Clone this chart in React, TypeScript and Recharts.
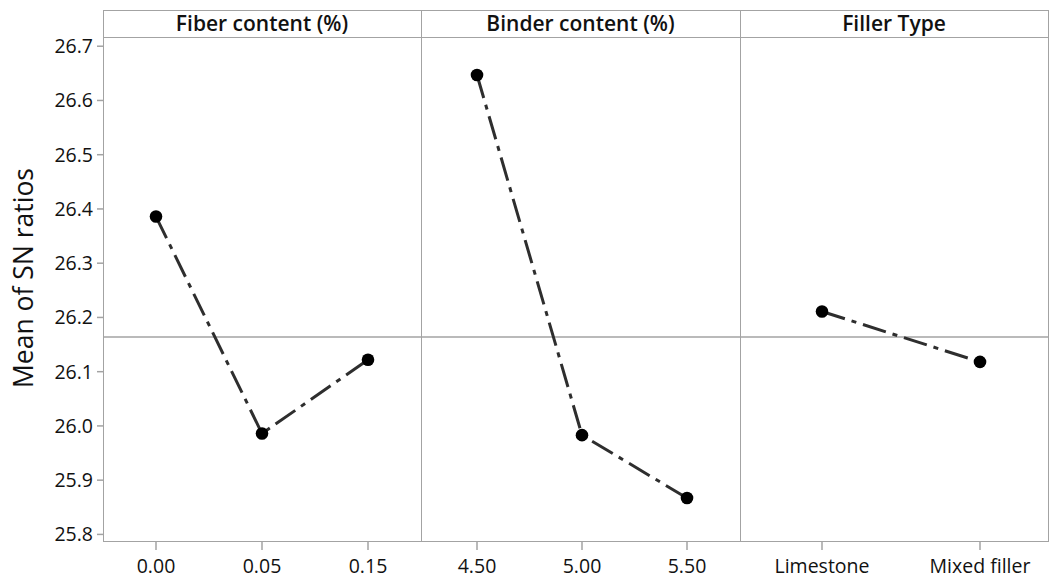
import React from "react";
import { LineChart, Line, XAxis, YAxis, ReferenceLine } from "recharts";

const fiberLevels = ["0.00", "0.05", "0.15"];
const fiberMeans = [26.386, 25.986, 26.122];
const binderLevels = ["4.50", "5.00", "5.50"];
const binderMeans = [26.647, 25.983, 25.867];
const fillerLevels = ["Limestone", "Mixed filler"];
const fillerMeans = [26.211, 26.118];
const overallMean = 26.164;
const yTicks = [25.8, 25.9, 26.0, 26.1, 26.2, 26.3, 26.4, 26.5, 26.6, 26.7];

const GRID = "#a3a3a3";
const FONT = "'Open Sans', sans-serif";

const toRows = (levels: string[], means: number[]) => levels.map((level, i) => ({ level, mean: means[i] }));

// y-axis title, nudged a bit above the axis centre like the original
function YTitle() {
    return (
        <text x={23} y={278} transform="rotate(-90 23 278)" textAnchor="middle" dominantBaseline="central"
            style={{ fontSize: 26.5, fill: "#111" }}>
            Mean of SN ratios
        </text>
    );
}

type PanelProps = {
    levels: string[];
    means: number[];
    left: number;
    width: number;
    padding: { left: number; right: number };
    showY?: boolean;
};

function Panel({ levels, means, left, width, padding, showY }: PanelProps) {
    return (
        <div style={{ position: "absolute", left, top: 0 }}>
            <LineChart width={width} height={580} data={toRows(levels, means)} margin={{ top: 37, right: 0, bottom: 0, left: 0 }}>
                <XAxis dataKey="level" type="category" scale="point" padding={padding} height={38}
                    axisLine={false} tickLine={{ stroke: GRID, strokeWidth: 1.5 }} tickSize={8} tickMargin={9}
                    tick={{ fontSize: 19.5, fill: "#111" }} interval={0} />
                <YAxis domain={[25.786, 26.717]} ticks={yTicks} hide={!showY} width={103}
                    axisLine={false} tickLine={{ stroke: GRID, strokeWidth: 1.5 }} tickSize={6} tickMargin={4}
                    tick={{ fontSize: 19.5, fill: "#111" }} tickFormatter={(v: number) => v.toFixed(1)} />
                <ReferenceLine y={overallMean} stroke={GRID} strokeWidth={1.5} />
                <Line dataKey="mean" type="linear" stroke="#2e2e2e" strokeWidth={3} strokeDasharray="24 7 5 7"
                    dot={{ r: 6.3, fill: "#000", stroke: "#000", strokeWidth: 0 }} isAnimationActive={false} />
            </LineChart>
            {showY && (
                <svg width={60} height={580} style={{ position: "absolute", left: 0, top: 0 }}>
                    <YTitle />
                </svg>
            )}
        </div>
    );
}

const headers = [
    { title: "Fiber content (%)", left: 103, width: 318 },
    { title: "Binder content (%)", left: 421, width: 319 },
    { title: "Filler Type", left: 740, width: 308 },
];

export default function App() {
    return (
        <div style={{ position: "absolute", left: 0, top: 0, width: 1050, height: 580, background: "#fff", fontFamily: FONT, color: "#111" }}>
            <Panel levels={fiberLevels} means={fiberMeans} left={0} width={421} padding={{ left: 53, right: 53 }} showY />
            <Panel levels={binderLevels} means={binderMeans} left={421} width={319} padding={{ left: 56, right: 53 }} />
            <Panel levels={fillerLevels} means={fillerMeans} left={740} width={308} padding={{ left: 82, right: 68 }} />

            {/* panel frame */}
            <div style={{ position: "absolute", left: 103, top: 10, width: 946, height: 532, border: `1.5px solid ${GRID}`, boxSizing: "border-box", pointerEvents: "none" }} />
            <div style={{ position: "absolute", left: 103, top: 36.5, width: 946, height: 0, borderTop: `1.5px solid ${GRID}` }} />
            <div style={{ position: "absolute", left: 420.5, top: 10, width: 0, height: 532, borderLeft: `1.5px solid ${GRID}` }} />
            <div style={{ position: "absolute", left: 739.5, top: 10, width: 0, height: 532, borderLeft: `1.5px solid ${GRID}` }} />
            {headers.map(h => (
                <div key={h.title} style={{ position: "absolute", left: h.left, top: 10, width: h.width, height: 27, lineHeight: "27px", textAlign: "center", fontSize: 21, fontWeight: 600 }}>
                    {h.title}
                </div>
            ))}
        </div>
    );
}
